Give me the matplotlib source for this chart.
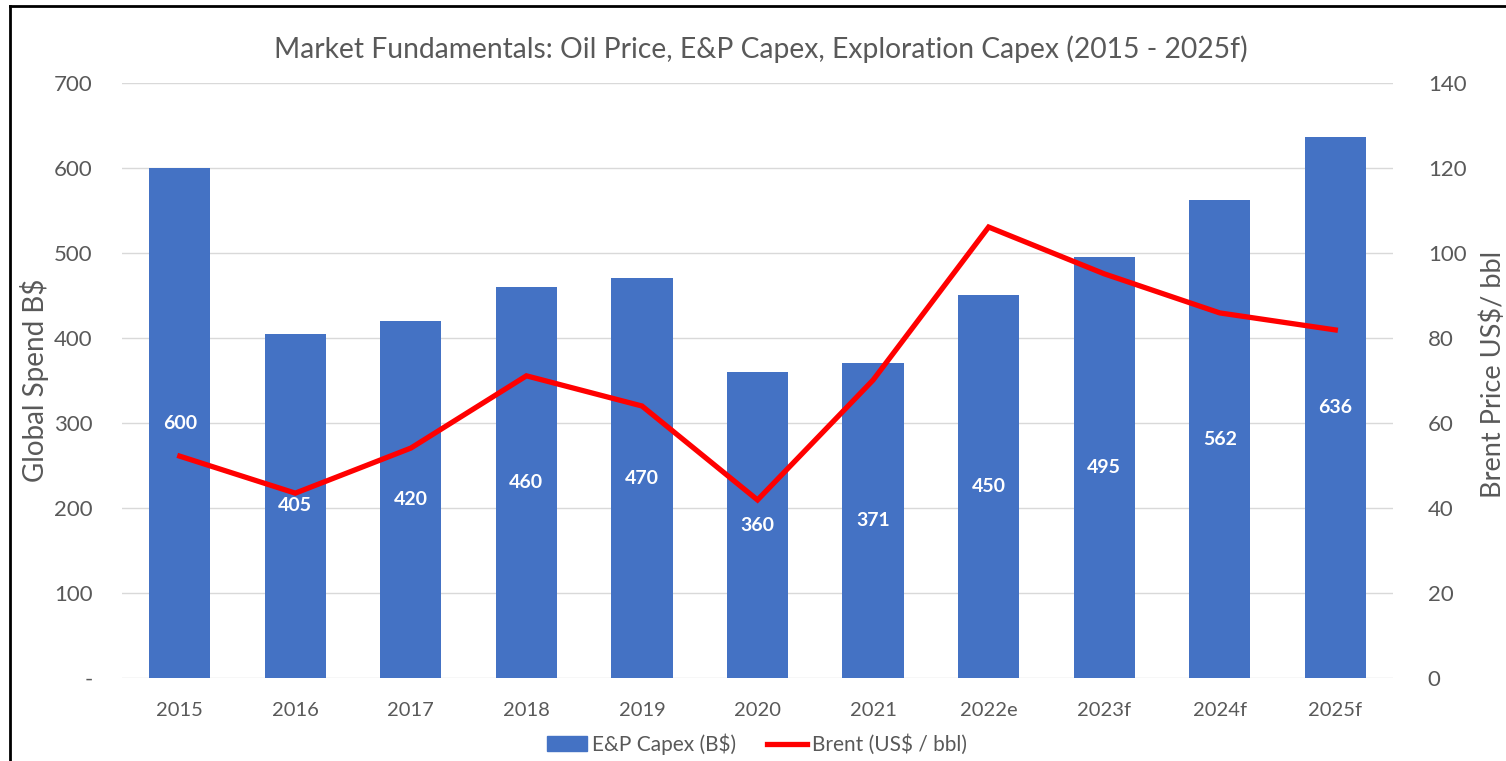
import numpy as np
import matplotlib.pyplot as plt
from matplotlib.patches import Rectangle
from matplotlib.lines import Line2D

plt.rcParams['font.family'] = ['Lato', 'DejaVu Sans']

years = ['2015', '2016', '2017', '2018', '2019', '2020', '2021',
         '2022e', '2023f', '2024f', '2025f']
capex = [600, 405, 420, 460, 470, 360, 371, 450, 495, 562, 636]
brent = [52.2, 43.5, 54.1, 71.1, 64.0, 41.9, 70.1, 106.1, 95.1, 85.9, 81.9]

grey = '#595959'
bar_color = '#4472C4'

fig = plt.figure(figsize=(15.06, 7.61), dpi=100, facecolor='white')
ax = fig.add_axes([0.081, 0.109, 0.844, 0.782])
ax2 = ax.twinx()

x = np.arange(len(years))
ax.set_zorder(1)
ax2.set_zorder(2)
ax.patch.set_visible(False)

ax.bar(x, capex, width=0.53, color=bar_color, zorder=2)
for xi, v in zip(x, capex):
    ax.text(xi, v / 2, f'{v}', ha='center', va='center', color='white',
            fontsize=14, fontweight='bold', zorder=3)

ax2.plot(x, brent, color='#FF0000', lw=3.8, solid_joinstyle='miter', zorder=4)

ax.set_xlim(-0.5, len(years) - 0.5)
ax.set_ylim(0, 700)
ax2.set_ylim(0, 140)
ax.set_yticks(range(0, 701, 100))
ax.set_yticklabels(['-'] + [str(v) for v in range(100, 701, 100)])
ax2.set_yticks(range(0, 141, 20))
ax.set_xticks(x)
ax.set_xticklabels(years)

ax.grid(axis='y', color='#d9d9d9', lw=1.0, zorder=0)
for a in (ax, ax2):
    for s in a.spines.values():
        s.set_visible(False)
    a.tick_params(length=0, colors=grey, labelsize=16)
ax.tick_params(axis='y', pad=21)
ax2.tick_params(axis='y', pad=25)
ax.tick_params(axis='x', pad=17, labelsize=14.5)

ax.set_ylabel('Global Spend B$', fontsize=20, color=grey, va='center')
ax2.set_ylabel('Brent Price US$/ bbl', fontsize=19.5, color=grey, va='center')
ax.yaxis.set_label_coords(-0.0685, 0.50)
ax2.yaxis.set_label_coords(1.0787, 0.51)

fig.text(0.505, 0.935, 'Market Fundamentals: Oil Price, E&P Capex, Exploration Capex (2015 - 2025f)',
         ha='center', va='center', fontsize=20.3, color=grey)

handles = [Rectangle((0, 0), 1, 1, color=bar_color),
           Line2D([0], [0], color='#FF0000', lw=3.8)]
fig.legend(handles, ['E&P Capex (B$)', 'Brent (US$ / bbl)'], loc='center',
           bbox_to_anchor=(757 / 1506, 0.022), ncol=2, frameon=False, fontsize=15,
           labelcolor=grey, handlelength=1.9, handleheight=0.7, handletextpad=0.25,
           columnspacing=1.5)

# outer frame (cropped screenshot: only left and top edges visible)
fig.add_artist(Line2D([10 / 1506, 10 / 1506], [0, 1 - 6 / 761], color='black', lw=2,
                      transform=fig.transFigure))
fig.add_artist(Line2D([10 / 1506, 1], [1 - 6 / 761, 1 - 6 / 761], color='black', lw=2,
                      transform=fig.transFigure))

fig.savefig('out.png', dpi=100)
